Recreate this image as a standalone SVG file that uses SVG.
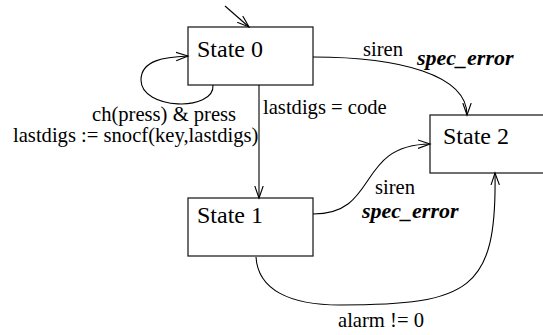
<svg xmlns="http://www.w3.org/2000/svg" width="543" height="335" viewBox="0 0 543 335">
<defs>
<marker id="ah" markerUnits="userSpaceOnUse" markerWidth="14" markerHeight="12" refX="12" refY="5" orient="auto" viewBox="0 0 14 10">
<path d="M0,0.8 L12,5 L0,9.2" fill="none" stroke="#000" stroke-width="1.1"/>
</marker>
<style>
text{font-family:'Liberation Serif',Tinos,'Times New Roman','DejaVu Serif',serif;fill:#000}
.box{fill:#fff;stroke:#222;stroke-width:1.3}
.st{font-size:24px}
.lb{font-size:20.6px}
.em{font-size:22px;font-weight:bold;font-style:italic}
.e{fill:none;stroke:#000;stroke-width:1.1;marker-end:url(#ah)}
</style>
</defs>
<rect width="543" height="335" fill="#fff"/>
<g id="state0"><rect class="box" x="188" y="27" width="125" height="58"/><text class="st" x="197" y="57">State 0</text></g>
<g id="state1"><rect class="box" x="188" y="198" width="125" height="58"/><text class="st" x="197" y="223">State 1</text></g>
<g id="state2"><rect class="box" x="430" y="115" width="130" height="58"/><text class="st" x="443" y="144">State 2</text></g>
<g id="connectors">
<path class="e" d="M225,6 L249,27"/>
<path class="e" d="M213,85 C215,112 141,110 141,80 C141,60 165,57 188,56"/>
<path class="e" d="M259,85 L259,198"/>
<path class="e" d="M313,57 C400,57 467,75 467,115"/>
<path class="e" d="M313,214 C380,214 355,145 430,144"/>
<path class="e" d="M256,257 C258,290 290,305 340,305 C470,305 497,290 495,173"/>
<text class="lb" x="92" y="121">ch(press) &amp; press</text>
<text class="lb" x="13" y="142">lastdigs := snocf(key,lastdigs)</text>
<text class="lb" x="263" y="114">lastdigs = code</text>
<text class="lb" x="363" y="56">siren</text>
<text class="em" x="417" y="65">spec_error</text>
<text class="lb" x="375" y="194">siren</text>
<text class="em" x="362" y="218">spec_error</text>
<text class="lb" x="338" y="327">alarm != 0</text>
</g>
</svg>
